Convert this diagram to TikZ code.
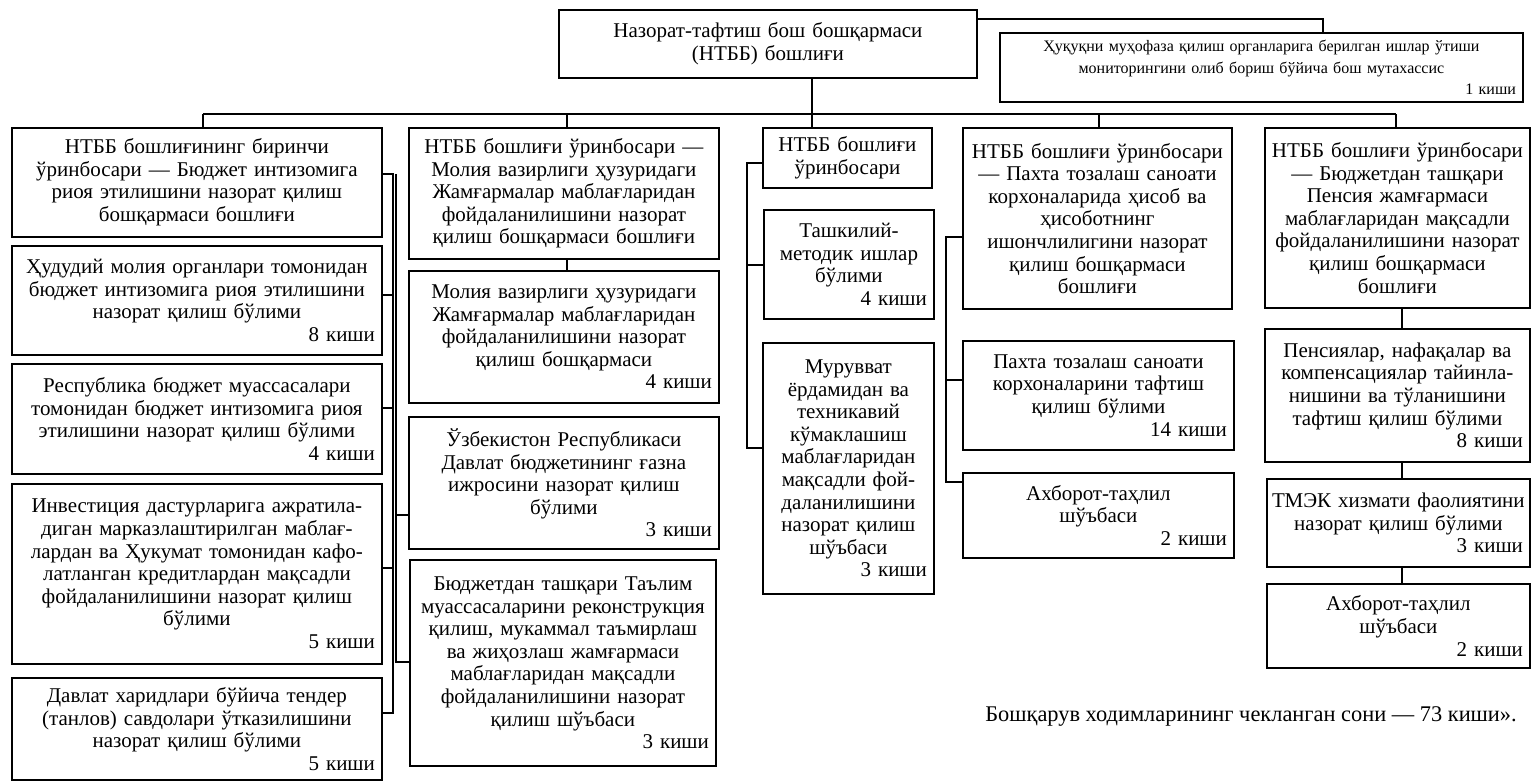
\documentclass[tikz,border=0pt]{standalone}
\usepackage{fontspec}
\setmainfont{Liberation Serif}
\newcommand\kishi[1]{\hskip0pt plus 1fill\hbox{#1~киши\kern6pt}}
\begin{document}
\begin{tikzpicture}[x=1pt,y=-1pt,
  box/.style={draw,line width=1.8pt,align=center,inner xsep=1pt,inner ysep=0pt,anchor=north west,
    font=\fontsize{21}{22.6}\selectfont},
  conn/.style={line width=1.4pt}]
\useasboundingbox[fill=white] (0,0) rectangle (1531,782);
% top
\node[box,text width=416pt,minimum height=68pt] (top) at (558,9) {Назорат-тафтиш бош бошқармаси\\(НТББ) бошлиғи};
\node[box,text width=521pt,minimum height=69pt,font=\fontsize{16}{21.5}\selectfont] (spec) at (999,32)
  {Ҳуқуқни муҳофаза қилиш органларига берилган ишлар ўтиши\\мониторингини олиб бориш бўйича бош мутахассис\\\kishi{1}};
% column 1
\node[box,text width=368pt,minimum height=109pt] (c1h) at (11,127) {НТББ бошлиғининг биринчи\\ўринбосари — Бюджет интизомига\\риоя этилишини назорат қилиш\\бошқармаси бошлиғи};
\node[box,text width=368pt,minimum height=109pt] (c1a) at (11,245) {Ҳудудий молия органлари томонидан\\бюджет интизомига риоя этилишини\\назорат қилиш бўлими\\\kishi{8}};
\node[box,text width=368pt,minimum height=110pt] (c1b) at (11,363) {Республика бюджет муассасалари\\томонидан бюджет интизомига риоя\\этилишини назорат қилиш бўлими\\\kishi{4}};
\node[box,text width=368pt,minimum height=180pt] (c1c) at (11,483) {Инвестиция дастурларига ажратила-\\диган марказлаштирилган маблағ-\\лардан ва Ҳукумат томонидан кафо-\\латланган кредитлардан мақсадли\\фойдаланилишини назорат қилиш\\бўлими\\\kishi{5}};
\node[box,text width=368pt,minimum height=102pt] (c1d) at (11,677) {Давлат харидлари бўйича тендер\\(танлов) савдолари ўтказилишини\\назорат қилиш бўлими\\\kishi{5}};
% column 2
\node[box,text width=308pt,minimum height=131pt] (c2h) at (408,127) {НТББ бошлиғи ўринбосари —\\Молия вазирлиги ҳузуридаги\\Жамғармалар маблағларидан\\фойдаланилишини назорат\\қилиш бошқармаси бошлиғи};
\node[box,text width=308pt,minimum height=132pt] (c2a) at (408,270) {Молия вазирлиги ҳузуридаги\\Жамғармалар маблағларидан\\фойдаланилишини назорат\\қилиш бошқармаси\\\kishi{4}};
\node[box,text width=308pt,minimum height=132pt] (c2b) at (408,416) {Ўзбекистон Республикаси\\Давлат бюджетининг ғазна\\ижросини назорат қилиш\\бўлими\\\kishi{3}};
\node[box,text width=304pt,minimum height=206pt] (c2c) at (409,559) {Бюджетдан ташқари Таълим\\муассасаларини реконструкция\\қилиш, мукаммал таъмирлаш\\ва жиҳозлаш жамғармаси\\маблағларидан мақсадли\\фойдаланилишини назорат\\қилиш шўъбаси\\\kishi{3}};
% column 3
\node[box,text width=167pt,minimum height=60pt] (c3h) at (762,127) {НТББ бошлиғи\\ўринбосари};
\node[box,text width=168pt,minimum height=109pt] (c3a) at (763,209) {Ташкилий-\\методик ишлар\\бўлими\\\kishi{4}};
\node[box,text width=169pt,minimum height=251pt] (c3b) at (762,342) {Мурувват\\ёрдамидан ва\\техникавий\\кўмаклашиш\\маблағларидан\\мақсадли фой-\\даланилишини\\назорат қилиш\\шўъбаси\\\kishi{3}};
% column 4
\node[box,text width=267pt,minimum height=181pt] (c4h) at (962,127) {НТББ бошлиғи ўринбосари\\— Пахта тозалаш саноати\\корхоналарида ҳисоб ва\\ҳисоботнинг\\ишончлилигини назорат\\қилиш бошқармаси\\бошлиғи};
\node[box,text width=269pt,minimum height=109pt] (c4a) at (962,340) {Пахта тозалаш саноати\\корхоналарини тафтиш\\қилиш бўлими\\\kishi{14}};
\node[box,text width=269pt,minimum height=85pt] (c4b) at (962,472) {Ахборот-таҳлил\\шўъбаси\\\kishi{2}};
% column 5
\node[box,text width=263pt,minimum height=180pt] (c5h) at (1264,127) {НТББ бошлиғи ўринбосари\\— Бюджетдан ташқари\\Пенсия жамғармаси\\маблағларидан мақсадли\\фойдаланилишини назорат\\қилиш бошқармаси\\бошлиғи};
\node[box,text width=263pt,minimum height=133pt] (c5a) at (1264,328) {Пенсиялар, нафақалар ва\\компенсациялар тайинла-\\нишини ва тўланишини\\тафтиш қилиш бўлими\\\kishi{8}};
\node[box,text width=261pt,minimum height=88pt] (c5b) at (1266,478) {ТМЭК хизмати фаолиятини\\назорат қилиш бўлими\\\kishi{3}};
\node[box,text width=261pt,minimum height=84pt] (c5c) at (1266,583) {Ахборот-таҳлил\\шўъбаси\\\kishi{2}};
% note
\node[anchor=base east,inner sep=0pt,font=\fontsize{22.4}{22.6}\selectfont] (note) at (1517,721) {Бошқарув ходимларининг чекланган сони — 73 киши».};
% connectors
\coordinate (j1) at (203,114);
\coordinate (j2) at (567,114);
\coordinate (j3) at (812,114);
\coordinate (j4) at (1099,114);
\coordinate (j5) at (1396,114);
\coordinate (sj) at (1323,19);
\draw[conn] (top.south -| j3) -- (j3);
\draw[conn] (j1) -- (j5);
\draw[conn] (j1) -- (j1 |- c1h.north);
\draw[conn] (j2) -- (j2 |- c2h.north);
\draw[conn] (j3) -- (j3 |- c3h.north);
\draw[conn] (j4) -- (j4 |- c4h.north);
\draw[conn] (j5) -- (j5 |- c5h.north);
\draw[conn] (sj -| top.east) -- (sj) -- (sj |- spec.north);
% column 1 spine
\coordinate (s1t) at (393,174);
\coordinate (s1b) at (393,713);
\draw[conn] (c1h.east |- s1t) -- (s1t) -- (s1b) -- (c1d.east |- s1b);
\draw[conn] (393,295) -- (c1a.east |- 0,295);
\draw[conn] (393,408) -- (c1b.east |- 0,408);
\draw[conn] (393,568) -- (c1c.east |- 0,568);
% column 2 spine
\coordinate (s2t) at (396,174);
\coordinate (s2b) at (396,662);
\draw[conn] (s2t) -- (s2b) -- (c2c.west |- s2b);
\draw[conn] (396,515) -- (c2b.west |- 0,515);
\draw[conn] (c2h.south -| j2) -- (c2a.north -| j2);
% column 3 spine
\coordinate (s3t) at (747,163);
\coordinate (s3b) at (747,448);
\draw[conn] (c3h.west |- s3t) -- (s3t) -- (s3b) -- (c3b.west |- s3b);
\draw[conn] (747,265) -- (c3a.west |- 0,265);
% column 4 spine
\coordinate (s4t) at (946,237);
\coordinate (s4b) at (946,482);
\draw[conn] (c4h.west |- s4t) -- (s4t) -- (s4b) -- (c4b.west |- s4b);
\draw[conn] (946,380) -- (c4a.west |- 0,380);
% column 5
\coordinate (x5) at (1402,0);
\draw[conn] (c5h.south -| x5) -- (c5a.north -| x5);
\draw[conn] (c5a.south -| x5) -- (c5b.north -| x5);
\draw[conn] (c5b.south -| x5) -- (c5c.north -| x5);
\end{tikzpicture}
\end{document}
